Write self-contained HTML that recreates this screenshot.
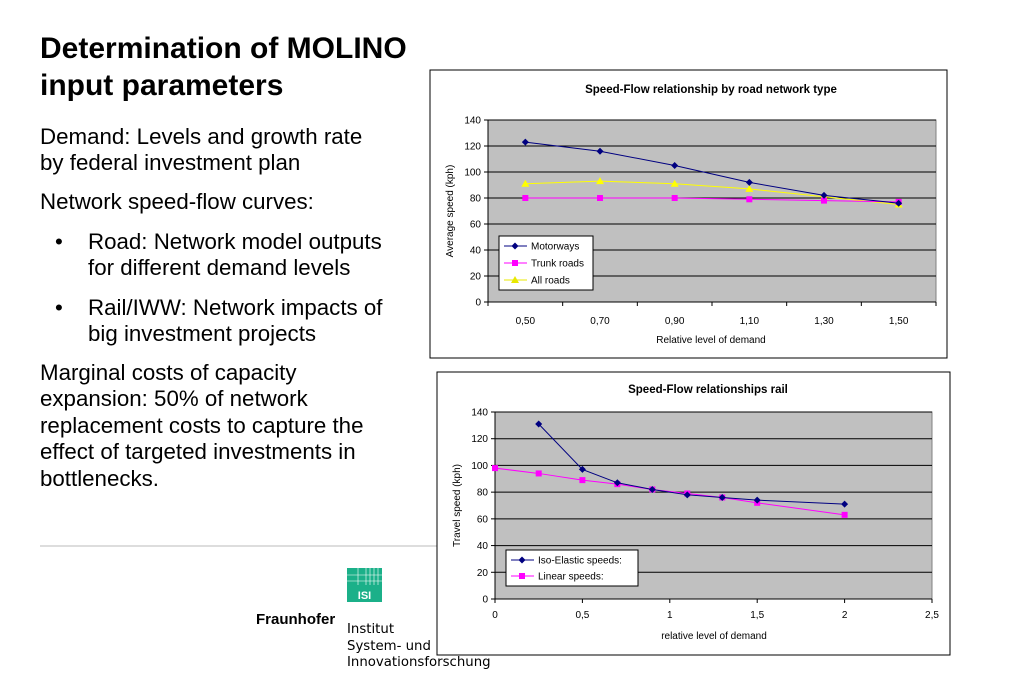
<!DOCTYPE html>
<html><head><meta charset="utf-8"><style>
body{margin:0;background:#fff;width:1023px;height:682px;overflow:hidden;font-family:"Liberation Sans",sans-serif}
svg{display:block}
</style></head><body>
<svg id="s" width="1023" height="682" xmlns="http://www.w3.org/2000/svg" font-family="Liberation Sans, sans-serif">
<g fill="#000">
<text x="40" y="58" font-size="30" font-weight="bold">Determination of MOLINO</text>
<text x="40" y="95" font-size="30" font-weight="bold">input parameters</text>
<g font-size="22.3">
<text x="40" y="144">Demand: Levels and growth rate</text>
<text x="40" y="170">by federal investment plan</text>
<text x="40" y="209">Network speed-flow curves:</text>
<text x="55" y="249">•</text>
<text x="88" y="249">Road: Network model outputs</text>
<text x="88" y="275">for different demand levels</text>
<text x="55" y="315">•</text>
<text x="88" y="315">Rail/IWW: Network impacts of</text>
<text x="88" y="341">big investment projects</text>
<text x="40" y="380">Marginal costs of capacity</text>
<text x="40" y="406">expansion: 50% of network</text>
<text x="40" y="433">replacement costs to capture the</text>
<text x="40" y="459">effect of targeted investments in</text>
<text x="40" y="486">bottlenecks.</text>
</g>
</g>
<line x1="40" y1="546" x2="440" y2="546" stroke="#bbb" stroke-width="1"/>
<g>
<rect x="347" y="568" width="35" height="34" fill="#1bb089"/>
<g stroke="#fff" stroke-width="0.6">
<line x1="347" y1="575" x2="382" y2="575"/><line x1="347" y1="581" x2="382" y2="581"/>
<line x1="358" y1="568" x2="358" y2="585"/><line x1="366" y1="568" x2="366" y2="585"/><line x1="370" y1="568" x2="370" y2="585"/><line x1="374" y1="568" x2="374" y2="585"/><line x1="378" y1="568" x2="378" y2="585"/>
</g>
<text x="364.5" y="599" font-size="11" font-weight="bold" fill="#fff" text-anchor="middle">ISI</text>
<text x="256" y="624" font-size="15" font-weight="bold" font-family="Liberation Sans, sans-serif">Fraunhofer</text>
<g font-size="13.3" font-family="DejaVu Sans, sans-serif"><text x="347" y="633">Institut</text><text x="347" y="650">System- und</text><text x="347" y="666">Innovationsforschung</text></g>
</g>
<g id="c1"></g>
<g id="c2"></g>
</svg>
<script>
const roadCategories=["0,50","0,70","0,90","1,10","1,30","1,50"];
const motorways=[123,116,105,92,82,76];
const trunkRoads=[80,80,80,79,78,77];
const allRoads=[91,93,91,87,81,75];
const yTicks=[0,20,40,60,80,100,120,140];
const railIsoX=[0.25,0.5,0.7,0.9,1.1,1.3,1.5,2];
const railIsoY=[131,97,87,82,78,76,74,71];
const railLinX=[0,0.25,0.5,0.7,0.9,1.1,1.3,1.5,2];
const railLinY=[98,94,89,86,82,79,76,72,63];
const railXTicks=[0,0.5,1,1.5,2,2.5];
const railXLabels=["0","0,5","1","1,5","2","2,5"];
const NS="http://www.w3.org/2000/svg";
function mk(p,t,a){const e=document.createElementNS(NS,t);for(const k in a)e.setAttribute(k,a[k]);p.appendChild(e);return e;}
function marker(g,kind,x,y,c){
 if(kind==='d'){const m=mk(g,'path',{d:`M${x} ${y-3.5}L${x+3.5} ${y}L${x} ${y+3.5}L${x-3.5} ${y}Z`,fill:c});}
 else if(kind==='s'){const m=mk(g,'rect',{x:x-3,y:y-3,width:6,height:6,fill:c});}
 else {const m=mk(g,'path',{d:`M${x} ${y-4}L${x+4} ${y+3}L${x-4} ${y+3}Z`,fill:c});}
}
function frame(g,x,y,w,h,title,tx,ty){
 mk(g,'rect',{x:x,y:y,width:w,height:h,fill:'#fff',stroke:'#000','stroke-width':1});
 const t=mk(g,'text',{x:tx,y:ty,'font-size':11.5,'font-weight':'bold','text-anchor':'middle'});t.textContent=title;
 
}
function yAxis(g,L,R,T,B,ys,label,lx){
 mk(g,'rect',{x:L,y:T,width:R-L,height:B-T,fill:'#c0c0c0',stroke:'#808080'});
 yTicks.forEach(v=>{const y=ys(v);
  if(v>0){const gl=mk(g,'line',{x1:L,x2:R,y1:y,y2:y,stroke:'#000','stroke-width':1});}
  mk(g,'line',{x1:L-4,x2:L,y1:y,y2:y,stroke:'#000'});
  const t=mk(g,'text',{x:L-7,y:y+3.5,'font-size':10,'text-anchor':'end'});t.textContent=v;
  });
 mk(g,'line',{x1:L,x2:L,y1:T,y2:B,stroke:'#000'});mk(g,'line',{x1:L,x2:R,y1:B,y2:B,stroke:'#000'});
 const yt=mk(g,'text',{x:0,y:0,'font-size':10,'text-anchor':'middle',transform:`translate(${lx},${(T+B)/2}) rotate(-90)`});yt.textContent=label;
 
}
function series(g,xs,ys,c,kind,name){
 const s=mk(g,'g',{});
 mk(s,'polyline',{points:xs.map((x,i)=>x+','+ys[i]).join(' '),fill:'none',stroke:c,'stroke-width':1});
 xs.forEach((x,i)=>marker(s,kind,x,ys[i],c));
}
function legend(g,x,y,w,h,items){
 const l=mk(g,'g',{});
 mk(l,'rect',{x:x,y:y,width:w,height:h,fill:'#fff',stroke:'#000'});
 items.forEach((it,i)=>{const yy=y+10+i*(h-20)/(items.length-1);
  const e=mk(l,'g',{});
  mk(e,'line',{x1:x+5,x2:x+28,y1:yy,y2:yy,stroke:it[1]});marker(e,it[2],x+16,yy,it[1]);
  const t=mk(e,'text',{x:x+32,y:yy+3.5,'font-size':10});t.textContent=it[0];});
}
(function(){
 const g=document.getElementById('c1');
 frame(g,430,70,517,288,'Speed-Flow relationship by road network type',711,93);
 const L=488,R=936,T=120,B=302,bw=(R-L)/roadCategories.length;
 const xs=i=>L+bw*(i+0.5), ys=v=>B-(v/140)*(B-T);
 yAxis(g,L,R,T,B,ys,'Average speed (kph)',453);
 roadCategories.forEach((c,i)=>{mk(g,'line',{x1:L+bw*(i+1),x2:L+bw*(i+1),y1:B,y2:B+4,stroke:'#000'});
  const t=mk(g,'text',{x:xs(i),y:B+22,'font-size':10,'text-anchor':'middle'});t.textContent=c;
  });
 mk(g,'line',{x1:L,x2:L,y1:B,y2:B+4,stroke:'#000'});
 const xt=mk(g,'text',{x:711,y:343,'font-size':10,'text-anchor':'middle'});xt.textContent='Relative level of demand';
 
 const idx=roadCategories.map((_,i)=>xs(i));
 series(g,idx,allRoads.map(ys),'#ffff00','t','series-all-roads');
 series(g,idx,trunkRoads.map(ys),'#ff00ff','s','series-trunk-roads');
 series(g,idx,motorways.map(ys),'#000080','d','series-motorways');
 legend(g,499,236,94,54,[['Motorways','#000080','d'],['Trunk roads','#ff00ff','s'],['All roads','#e8e800','t']]);
})();
(function(){
 const g=document.getElementById('c2');
 frame(g,437,372,513,283,'Speed-Flow relationships rail',708,393);
 const L=495,R=932,T=412,B=599;
 const xs=v=>L+(v/2.5)*(R-L), ys=v=>B-(v/140)*(B-T);
 yAxis(g,L,R,T,B,ys,'Travel speed (kph)',460);
 railXTicks.forEach((v,i)=>{mk(g,'line',{x1:xs(v),x2:xs(v),y1:B,y2:B+4,stroke:'#000'});
  const t=mk(g,'text',{x:xs(v),y:B+19,'font-size':10,'text-anchor':'middle'});t.textContent=railXLabels[i];
  });
 const xt=mk(g,'text',{x:714,y:639,'font-size':10,'text-anchor':'middle'});xt.textContent='relative level of demand';
 
 series(g,railLinX.map(xs),railLinY.map(ys),'#ff00ff','s','series-linear-speeds');
 series(g,railIsoX.map(xs),railIsoY.map(ys),'#000080','d','series-iso-elastic-speeds');
 legend(g,506,550,132,36,[['Iso-Elastic speeds:','#000080','d'],['Linear speeds:','#ff00ff','s']]);
})();
</script>
</body></html>
